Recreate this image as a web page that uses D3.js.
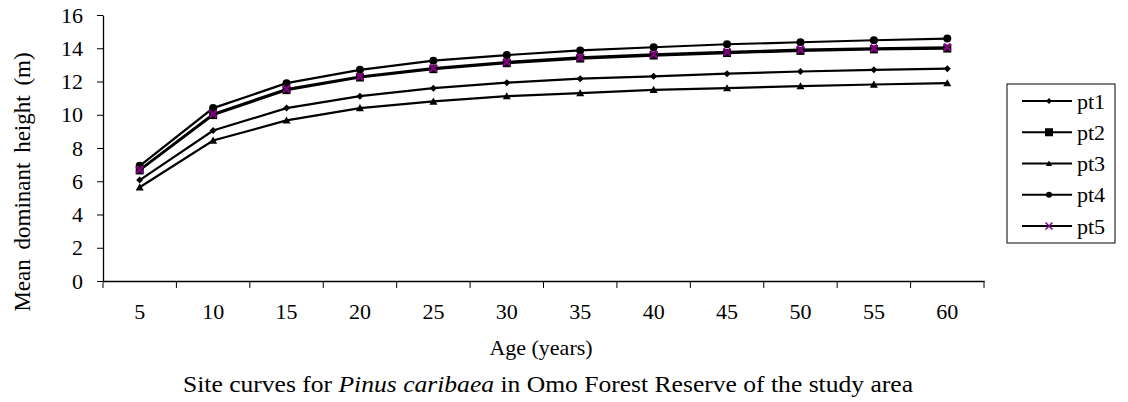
<!DOCTYPE html>
<html>
<head>
<meta charset="utf-8">
<script src="https://cdn.jsdelivr.net/npm/d3@7"></script>
<style>
  body { margin: 0; background: #fff; }
  svg text { font-family: "Liberation Serif", "Tinos", "Times New Roman", "DejaVu Serif", serif !important; fill: #000; }
</style>
</head>
<body>
<div id="chart"></div>
<script>
const ages = [5, 10, 15, 20, 25, 30, 35, 40, 45, 50, 55, 60];
const yTicks = [0, 2, 4, 6, 8, 10, 12, 14, 16];
const seriesNames = ["pt1", "pt2", "pt3", "pt4", "pt5"];
const pt1 = [6.07, 9.05, 10.40, 11.12, 11.60, 11.93, 12.17, 12.31, 12.47, 12.60, 12.70, 12.77];
const pt2 = [6.65, 9.98, 11.48, 12.24, 12.74, 13.10, 13.38, 13.56, 13.71, 13.84, 13.93, 13.98];
const pt3 = [5.64, 8.45, 9.66, 10.40, 10.80, 11.12, 11.30, 11.50, 11.60, 11.72, 11.82, 11.90];
const pt4 = [6.93, 10.40, 11.90, 12.70, 13.25, 13.59, 13.87, 14.06, 14.24, 14.36, 14.48, 14.58];
const pt5 = [6.70, 10.05, 11.55, 12.30, 12.80, 13.17, 13.45, 13.63, 13.78, 13.92, 14.00, 14.06];
const seriesValues = [pt1, pt2, pt3, pt4, pt5];

const width = 1128, height = 402;
const svg = d3.select("#chart").append("svg")
    .attr("width", width)
    .attr("height", height)
    .attr("font-family", "Liberation Serif");

const x = d3.scaleBand().domain(ages).range([103, 984]).padding(0);
const y = d3.scaleLinear().domain([0, 16]).range([281, 15]);

// y axis
const yAxis = svg.append("g")
    .attr("transform", "translate(103,0)")
    .call(d3.axisLeft(y).tickValues(yTicks).tickSize(6).tickSizeOuter(0).tickPadding(14));
yAxis.attr("font-family", null).attr("font-size", null);
yAxis.selectAll("text").style("font-size", "22px");

// x axis: labels centred in bands, ticks on band edges
const xAxis = svg.append("g")
    .attr("transform", "translate(0,281)")
    .call(d3.axisBottom(x).tickSize(0).tickSizeOuter(0).tickPadding(22));
xAxis.attr("font-family", null).attr("font-size", null);
xAxis.selectAll("text").style("font-size", "22px");
const edges = ages.map(a => x(a)).concat([x.range()[1]]);
xAxis.selectAll(".edge").data(edges).enter().append("line")
    .attr("class", "edge")
    .attr("x1", d => d).attr("x2", d => d)
    .attr("y1", 0).attr("y2", 7)
    .attr("stroke", "#000");
svg.selectAll(".domain").attr("stroke", "#000").attr("stroke-width", 1.3);
svg.selectAll(".tick line").attr("stroke", "#000");

// marker drawing
const purple = "#800080";
function drawMarker(g, name, cx, cy, legend) {
    if (name === "pt1") {
        const s = legend ? 3 : 3.5;
        g.append("path").attr("d", `M${cx},${cy - s}L${cx + s},${cy}L${cx},${cy + s}L${cx - s},${cy}Z`).attr("fill", "#000");
    } else if (name === "pt2") {
        const s = 4;
        g.append("rect").attr("x", cx - s).attr("y", cy - s).attr("width", 2 * s).attr("height", 2 * s).attr("fill", "#000");
    } else if (name === "pt3") {
        const s = legend ? 3 : 4;
        g.append("path").attr("d", `M${cx},${cy - s}L${cx + s},${cy + s * 0.8}L${cx - s},${cy + s * 0.8}Z`).attr("fill", "#000");
    } else if (name === "pt4") {
        g.append("circle").attr("cx", cx).attr("cy", cy).attr("r", legend ? 3 : 4).attr("fill", "#000");
    } else {
        const s = 3.5;
        g.append("path").attr("d", `M${cx - s},${cy - s}L${cx + s},${cy + s}M${cx - s},${cy + s}L${cx + s},${cy - s}`)
            .attr("stroke", purple).attr("stroke-width", legend ? 1.5 : 2.5).attr("fill", "none");
    }
}

const line = d3.line()
    .x((d, i) => x(ages[i]) + x.bandwidth() / 2)
    .y(d => y(d));

seriesNames.forEach((name, k) => {
    const vals = seriesValues[k];
    const g = svg.append("g");
    g.append("path")
        .datum(vals)
        .attr("d", line)
        .attr("fill", "none")
        .attr("stroke", "#000")
        .attr("stroke-width", 2.2);
    vals.forEach((v, i) => drawMarker(g, name, x(ages[i]) + x.bandwidth() / 2, y(v), false));
});

// axis titles
svg.append("text")
    .attr("transform", "translate(30,182) rotate(-90)")
    .attr("text-anchor", "middle")
    .style("font-size", "23px")
    .style("word-spacing", "4px")
    .text("Mean dominant height (m)");

svg.append("text")
    .attr("x", 541).attr("y", 355)
    .attr("text-anchor", "middle")
    .style("font-size", "22px")
    .text("Age (years)");

const caption = svg.append("text")
    .attr("x", 548).attr("y", 392)
    .attr("text-anchor", "middle")
    .attr("textLength", 730)
    .attr("lengthAdjust", "spacingAndGlyphs")
    .style("font-size", "24px");
caption.append("tspan").text("Site curves for ");
caption.append("tspan").style("font-style", "italic").text("Pinus caribaea");
caption.append("tspan").text(" in Omo Forest Reserve of the study area");

// legend
const legend = svg.append("g");
legend.append("rect")
    .attr("x", 1007).attr("y", 84)
    .attr("width", 108).attr("height", 159)
    .attr("fill", "#fff").attr("stroke", "#000").attr("stroke-width", 1);
const ly = d3.scalePoint().domain(seriesNames).range([101, 226]);
seriesNames.forEach(name => {
    const yy = ly(name);
    legend.append("line")
        .attr("x1", 1022).attr("x2", 1072)
        .attr("y1", yy).attr("y2", yy)
        .attr("stroke", "#000").attr("stroke-width", 2);
    drawMarker(legend, name, 1049, yy, true);
    legend.append("text")
        .attr("x", 1077).attr("y", yy)
        .attr("dy", "0.35em")
        .style("font-size", "22px")
        .text(name);
});
</script>
</body>
</html>
